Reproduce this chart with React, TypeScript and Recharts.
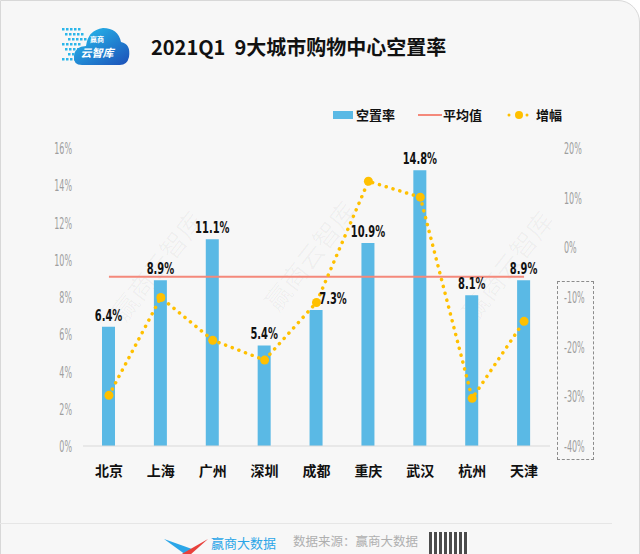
import { ComposedChart, Bar, Line, XAxis, YAxis, LabelList } from "recharts"

const cities = ["北京", "上海", "广州", "深圳", "成都", "重庆", "武汉", "杭州", "天津"]
const vacancy = [6.4, 8.9, 11.1, 5.4, 7.3, 10.9, 14.8, 8.1, 8.9]
const growth = [-29.8, -10.1, -18.7, -22.7, -11.1, 13.3, 10.1, -30.4, -14.9]
const leftTicks = [0, 2, 4, 6, 8, 10, 12, 14, 16]
const rightTicks = [-40, -30, -20, -10, 0, 10, 20]

const avg = vacancy.reduce((s, v) => s + v, 0) / vacancy.length

const data = cities.map((city, i) => ({
  city,
  vacancy: vacancy[i],
  growth: growth[i],
  avg,
}))

const SANS = "'DejaVu Sans', sans-serif"
const CJK = "'Noto Sans CJK SC', sans-serif"

// condensed look: squeeze DejaVu horizontally
const Narrow = ({ x, y, anchor, size, weight, fill, sx, children }: any) => (
  <g transform={`translate(${x},${y}) scale(${sx},1)`}>
    <text x={0} y={0} textAnchor={anchor} fontFamily={SANS} fontSize={size} fontWeight={weight} fill={fill}>
      {children}
    </text>
  </g>
)

const BarLabel = (props: any) => {
  const { x, y, width, value, index } = props
  // 成都's label sits to the right so it clears the growth marker
  const dx = index === 4 ? 17 : 0
  return (
    <Narrow x={x + width / 2 + dx} y={y - 6} anchor="middle" size={16} weight="bold" fill="#111" sx={0.62}>
      {value}%
    </Narrow>
  )
}

const LeftTick = (props: any) => {
  const { x, y, payload } = props
  return (
    <Narrow x={x} y={y + 6} anchor="end" size={16} weight="normal" fill="#9E9E9E" sx={0.5}>
      {payload.value}%
    </Narrow>
  )
}

const RightTick = (props: any) => {
  const { x, y, payload } = props
  return (
    <Narrow x={x} y={y + 6} anchor="start" size={16} weight="normal" fill="#9E9E9E" sx={0.5}>
      {payload.value}%
    </Narrow>
  )
}

const LegendBox = () => (
  <div
    style={{
      position: "absolute",
      left: 333,
      top: 105,
      display: "flex",
      alignItems: "center",
      fontFamily: CJK,
      fontWeight: 700,
      fontSize: 13,
      color: "#111",
    }}
  >
    <span style={{ width: 20, height: 8, background: "#5AB9E5", marginRight: 3 }} />
    <span style={{ marginRight: 23 }}>空置率</span>
    <span style={{ width: 24, height: 2, background: "#F4897B", marginRight: 1 }} />
    <span style={{ marginRight: 25 }}>平均值</span>
    <svg width={22} height={10} style={{ marginRight: 7 }}>
      <circle cx={2} cy={5} r={1.5} fill="#FFC000" />
      <circle cx={12} cy={5} r={4} fill="#FFC000" />
      <circle cx={20} cy={5} r={1.5} fill="#FFC000" />
    </svg>
    <span>增幅</span>
  </div>
)

const Watermark = ({ x, y }: { x: number; y: number }) => (
  <text
    x={x}
    y={y}
    transform={`rotate(-52 ${x} ${y})`}
    textAnchor="middle"
    fontFamily={CJK}
    fontSize={26}
    fill="#000"
    fillOpacity={0.035}
  >
    赢商云智库
  </text>
)

const Logo = () => (
  <svg width={80} height={56} style={{ position: "absolute", left: 56, top: 16 }}>
    <defs>
      <linearGradient id="cloud" x1="0" y1="0" x2="1" y2="1">
        <stop offset="0%" stopColor="#27C3F0" />
        <stop offset="100%" stopColor="#1C4FB8" />
      </linearGradient>
    </defs>
    {[0, 1, 2, 3, 4, 5, 6].map((r) =>
      [0, 1, 2, 3, 4].map((c) => (
        <rect key={`${r}-${c}`} x={6 + c * 4 + (r % 3) * 3} y={12 + r * 5} width={2.5} height={2.5} fill="#2BB6EA" />
      ))
    )}
    <path
      d="M26 49 Q17 49 18 40 Q19 30 30 30 Q32 14 47 12 Q62 12 65 26 Q75 28 73 41 Q71 50 62 49 Z"
      fill="url(#cloud)"
    />
    <text x={41} y={26} textAnchor="middle" fontFamily={CJK} fontSize={7} fontWeight={700} fill="#fff">赢商</text>
    <text x={41} y={41} textAnchor="middle" fontFamily={CJK} fontSize={11} fontWeight={700} fontStyle="italic" fill="#fff">云智库</text>
  </svg>
)

export default function App() {
  return (
    <div style={{ position: "fixed", left: 0, top: 0, width: 640, height: 554, background: "#fff", overflow: "hidden" }}>
      <div
        style={{
          position: "absolute",
          left: 0,
          top: 0,
          width: 638,
          height: 600,
          background: "#F7F7F7",
          border: "1px solid #D8D8D8",
          borderTopRightRadius: 22,
        }}
      />
      <Logo />
      <div
        style={{
          position: "absolute",
          left: 151,
          top: 32,
          fontFamily: CJK,
          fontWeight: 700,
          fontSize: 20,
          color: "#111",
          whiteSpace: "pre",
        }}
      >
        2021Q1  9大城市购物中心空置率
      </div>
      <LegendBox />
      <div style={{ position: "absolute", left: 0, top: 0 }}>
        <ComposedChart width={640} height={554} data={data} margin={{ top: 148, right: 40, bottom: 78, left: 33 }}>
          <Watermark x={165} y={272} />
          <Watermark x={318} y={262} />
          <Watermark x={515} y={272} />
          <XAxis
            dataKey="city"
            height={30}
            axisLine={{ stroke: "#D9D9D9", strokeWidth: 1 }}
            tickLine={false}
            tickMargin={14}
            tick={{ fill: "#111", fontSize: 14, fontWeight: 700, fontFamily: CJK }}
            interval={0}
          />
          <YAxis
            yAxisId="left"
            width={50}
            domain={[0, 16]}
            ticks={leftTicks}
            axisLine={false}
            tickLine={false}
            tickMargin={5}
            tick={<LeftTick />}
          />
          <YAxis
            yAxisId="right"
            orientation="right"
            width={50}
            domain={[-40, 20]}
            ticks={rightTicks}
            axisLine={false}
            tickLine={false}
            tickMargin={8}
            tick={<RightTick />}
          />
          <Bar yAxisId="left" dataKey="vacancy" fill="#5AB9E5" barSize={13} isAnimationActive={false}>
            <LabelList dataKey="vacancy" content={<BarLabel />} />
          </Bar>
          <Line
            yAxisId="left"
            dataKey="avg"
            stroke="#F4897B"
            strokeWidth={2}
            dot={false}
            activeDot={false}
            isAnimationActive={false}
          />
          <Line
            yAxisId="right"
            dataKey="growth"
            stroke="#FFC000"
            strokeWidth={3.5}
            strokeDasharray="0.1 7"
            strokeLinecap="round"
            dot={{ r: 4.5, fill: "#FFC000", stroke: "none" }}
            activeDot={false}
            isAnimationActive={false}
          />
        </ComposedChart>
      </div>
      <div
        style={{
          position: "absolute",
          left: 557,
          top: 281,
          width: 35,
          height: 177,
          border: "1.5px dashed #8C8C8C",
        }}
      />
      <div style={{ position: "absolute", left: 0, top: 523, width: 612, height: 1, background: "#E6E6E6" }} />
      <svg width={44} height={16} style={{ position: "absolute", left: 164, top: 539 }}>
        <path d="M0 0 L22 16 L28 10 Z" fill="#2BA6E8" />
        <path d="M16 16 L44 0 L26 16 Z" fill="#E8413C" />
      </svg>
      <div style={{ position: "absolute", left: 211, top: 535, fontFamily: CJK, fontSize: 13, lineHeight: "16px", color: "#2BA6E8" }}>
        赢商大数据
      </div>
      <div style={{ position: "absolute", left: 293, top: 533, fontFamily: CJK, fontSize: 12.5, lineHeight: "16px", color: "#AFAFAF" }}>
        数据来源：赢商大数据
      </div>
      <div
        style={{
          position: "absolute",
          left: 429,
          top: 532,
          width: 40,
          height: 40,
          background: "repeating-linear-gradient(90deg, #222 0 3px, #fff 3px 5px), #fff",
          opacity: 0.8,
        }}
      />
    </div>
  )
}
